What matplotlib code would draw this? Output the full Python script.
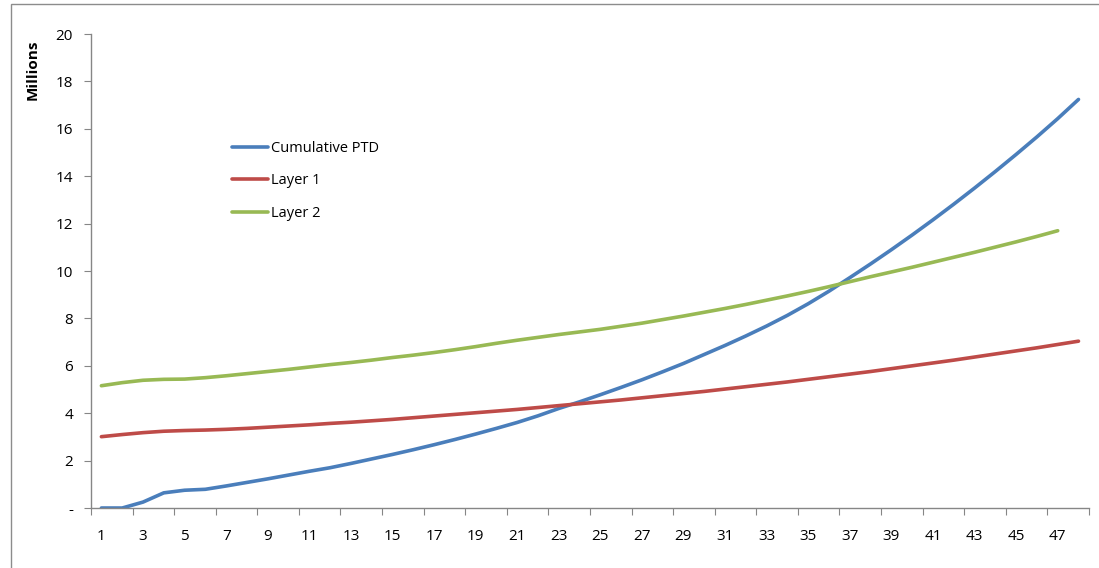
import matplotlib.pyplot as plt
from matplotlib.patches import Rectangle

# periods 1..48
periods = list(range(1, 49))

cumulative_ptd = [0.00, 0.00, 0.25, 0.64, 0.75, 0.79, 0.93, 1.08, 1.23, 1.39,
                  1.55, 1.70, 1.88, 2.07, 2.26, 2.46, 2.67, 2.89, 3.12, 3.36,
                  3.61, 3.89, 4.20, 4.48, 4.78, 5.09, 5.41, 5.75, 6.10, 6.48,
                  6.86, 7.26, 7.68, 8.13, 8.62, 9.15, 9.72, 10.30, 10.90, 11.52,
                  12.16, 12.82, 13.50, 14.20, 14.92, 15.66, 16.43, 17.24]

layer_1 = [3.01, 3.10, 3.18, 3.24, 3.27, 3.29, 3.32, 3.36, 3.41, 3.46,
           3.51, 3.57, 3.62, 3.68, 3.74, 3.81, 3.88, 3.95, 4.02, 4.09,
           4.16, 4.24, 4.32, 4.40, 4.48, 4.56, 4.65, 4.74, 4.83, 4.92,
           5.02, 5.12, 5.22, 5.32, 5.43, 5.54, 5.65, 5.76, 5.88, 6.00,
           6.12, 6.24, 6.37, 6.50, 6.63, 6.76, 6.90, 7.04]

# layer 2 stops one period early
layer_2 = [5.16, 5.29, 5.39, 5.43, 5.44, 5.50, 5.58, 5.67, 5.76, 5.85,
           5.95, 6.05, 6.14, 6.24, 6.35, 6.45, 6.56, 6.68, 6.81, 6.95,
           7.08, 7.20, 7.32, 7.43, 7.54, 7.67, 7.80, 7.95, 8.10, 8.26,
           8.42, 8.59, 8.77, 8.95, 9.14, 9.34, 9.55, 9.76, 9.96, 10.16,
           10.37, 10.58, 10.79, 11.01, 11.23, 11.46, 11.70]

y_ticks = list(range(0, 21, 2))
y_labels = ['-'] + [str(v) for v in y_ticks[1:]]

plt.rcParams['font.family'] = ['Open Sans', 'DejaVu Sans']

fig = plt.figure(figsize=(10.99, 5.68), dpi=100)
ax = fig.add_axes([0.0828, 0.1056, 0.908, 0.8345])

# outer chart border
fig.patches.append(Rectangle((11 / 1099, -0.1), 1.2, 0.993 + 0.1,
                             transform=fig.transFigure, fill=False,
                             edgecolor='#8c8c8c', linewidth=1.0))

ax.plot(periods, cumulative_ptd, color='#4a7ebb', lw=2.6, label='Cumulative PTD',
        solid_capstyle='round')
ax.plot(periods, layer_1, color='#be4b48', lw=2.6, label='Layer 1',
        solid_capstyle='round')
ax.plot(periods[:len(layer_2)], layer_2, color='#98b954', lw=2.6, label='Layer 2',
        solid_capstyle='round')

ax.set_xlim(0.5, 48.5)
ax.set_ylim(0, 20)

for s in ['top', 'right']:
    ax.spines[s].set_visible(False)
for s in ['left', 'bottom']:
    ax.spines[s].set_color('#868686')
    ax.spines[s].set_linewidth(1.0)

ax.set_yticks(y_ticks)
ax.set_yticklabels(y_labels)
ax.tick_params(axis='y', direction='out', length=5, color='#868686',
               labelsize=11, pad=8)

# tick marks between categories, labels on odd periods
ax.set_xticks([p - 0.5 for p in periods[::2]] + [48.5])
ax.set_xticklabels([])
ax.set_xticks(periods[::2], minor=True)
ax.set_xticklabels([str(p) for p in periods[::2]], minor=True)
ax.tick_params(axis='x', which='major', direction='out', length=5, color='#868686')
ax.tick_params(axis='x', which='minor', length=0, labelsize=11, pad=15)

fig.text(0.030, 0.878, 'Millions', rotation=90, fontsize=11, fontweight='bold',
         ha='center', va='center')

ax.legend(loc='upper left', bbox_to_anchor=(0.1413, 0.775), frameon=False,
          fontsize=10.5, handlelength=2.5, handletextpad=0.15, labelspacing=1.2,
          borderpad=0, borderaxespad=0)

fig.savefig('out.png', dpi=100)
